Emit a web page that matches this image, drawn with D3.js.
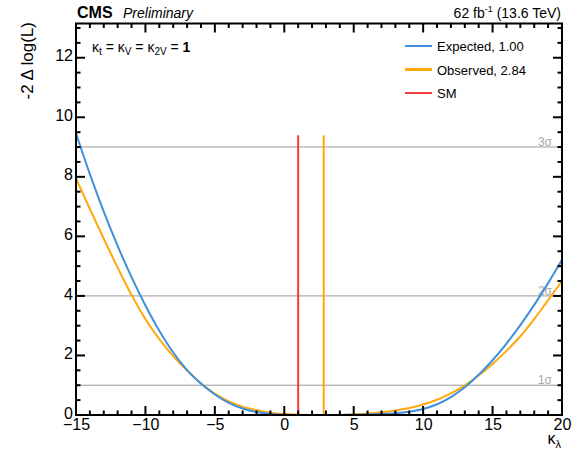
<!doctype html>
<html>
  <head>
    <script src="https://cdn.jsdelivr.net/npm/d3@7/dist/d3.min.js"></script>
    <style>
      body { margin: 0; background: #fff; }
      text { font-family: "Liberation Sans", Arial, sans-serif; }
    </style>
  </head>
  <body>
    <svg id="chart" width="580" height="464"></svg>
    <script>
      // kappa_lambda scan points
      var kl = d3.range(-15, 21);
      var expected = [9.46, 8.09, 6.83, 5.68, 4.63, 3.68, 2.83, 2.1, 1.51, 1.06,
                      0.69, 0.41, 0.22, 0.1, 0.035, 0.008, 0, 0.001, 0.002, 0.004,
                      0.007, 0.015, 0.03, 0.06, 0.11, 0.2, 0.36, 0.6, 0.93, 1.35,
                      1.84, 2.4, 3.02, 3.7, 4.43, 5.21];
      var observed = [7.95, 6.92, 5.92, 4.95, 4.03, 3.22, 2.55, 1.98, 1.49, 1.06,
                      0.72, 0.46, 0.28, 0.16, 0.08, 0.035, 0.012, 0.002, 0.001, 0.004,
                      0.019, 0.049, 0.094, 0.154, 0.234, 0.354, 0.514, 0.724, 0.994, 1.324,
                      1.714, 2.154, 2.644, 3.22, 3.86, 4.5];
      var bestFit = [{name: "SM", value: 1.0, color: "#f03c3c"},
                     {name: "Observed", value: 2.84, color: "#ffa90e"}];
      var sigmaLevels = [1, 4, 9];
      var sigmaLabels = ["1σ", "2σ", "3σ"];
      var xTicks = [-15, -10, -5, 0, 5, 10, 15, 20];
      var yTicks = [0, 2, 4, 6, 8, 10, 12];

      var pL = 76, pR = 562, pT = 23.5, pB = 415;
      var svg = d3.select("#chart");

      var x = d3.scaleLinear().domain([-15, 20]).range([pL, pR]);
      var y = d3.scaleLinear().domain([0, 13.15]).range([pB, pT]);

      svg.append("clipPath").attr("id", "clip")
        .append("rect")
          .attr("x", pL).attr("y", pT)
          .attr("width", pR - pL).attr("height", pB - pT);

      // sigma lines
      svg.selectAll(".sig")
        .data(sigmaLevels)
        .enter()
        .append("line")
          .attr("x1", pL).attr("x2", pR)
          .attr("y1", d => y(d)).attr("y2", d => y(d))
          .style("stroke", (d, i) => i == 2 ? "#bbb" : "#999")
          .style("stroke-width", (d, i) => i == 2 ? 1.5 : 1);

      svg.selectAll(".siglab")
        .data(sigmaLevels)
        .enter()
        .append("text")
          .attr("x", 552).attr("y", d => y(d) - 1)
          .attr("text-anchor", "end")
          .style("font-size", "12px")
          .style("fill", "#aaa")
          .text((d, i) => sigmaLabels[i]);

      var line = d3.line()
        .x((d, i) => x(kl[i]))
        .y(d => y(d))
        .curve(d3.curveMonotoneX);

      var g = svg.append("g").attr("clip-path", "url(#clip)");

      g.append("path")
        .datum(observed)
        .attr("d", line)
        .style("fill", "none")
        .style("stroke", "#ffa90e")
        .style("stroke-width", 2);

      g.append("path")
        .datum(expected)
        .attr("d", line)
        .style("fill", "none")
        .style("stroke", "#3f90da")
        .style("stroke-width", 2);

      // best fit / SM vertical lines
      svg.selectAll(".vl")
        .data(bestFit)
        .enter()
        .append("line")
          .attr("x1", d => x(d.value)).attr("x2", d => x(d.value))
          .attr("y1", y(0)).attr("y2", y(9.4))
          .style("stroke", d => d.color)
          .style("stroke-width", 2);

      // axes
      var xAxis = svg.append("g").attr("transform", "translate(0," + pB + ")")
        .call(d3.axisBottom(x).tickValues(xTicks).tickSize(0).tickPadding(4)
          .tickFormat(d => d < 0 ? "\u2212" + Math.abs(d) : d));
      xAxis.select(".domain").remove();
      xAxis.selectAll("text").style("font-size", "16px").style("font-family", "Liberation Sans, Arial, sans-serif");

      var yAxis = svg.append("g").attr("transform", "translate(" + pL + ",-2)")
        .call(d3.axisLeft(y).tickValues(yTicks).tickSize(0).tickPadding(3));
      yAxis.select(".domain").remove();
      yAxis.selectAll("text").style("font-size", "16px").style("font-family", "Liberation Sans, Arial, sans-serif");

      // inward ticks on all four sides
      var xMinor = d3.range(-15, 21);
      var yMinor = d3.range(0, 13.01, 0.5);
      var ticks = svg.append("g").style("stroke", "#000").style("stroke-width", 2);
      xMinor.forEach(function(v) {
        var len = v % 5 == 0 ? 9 : 4.5;
        ticks.append("line").attr("x1", x(v)).attr("x2", x(v)).attr("y1", pB).attr("y2", pB - len);
        ticks.append("line").attr("x1", x(v)).attr("x2", x(v)).attr("y1", pT).attr("y2", pT + len);
      });
      yMinor.forEach(function(v) {
        var len = v % 2 == 0 ? 9 : 4.5;
        ticks.append("line").attr("y1", y(v)).attr("y2", y(v)).attr("x1", pL).attr("x2", pL + len);
        ticks.append("line").attr("y1", y(v)).attr("y2", y(v)).attr("x1", pR).attr("x2", pR - len);
      });

      svg.append("rect")
        .attr("x", pL).attr("y", pT)
        .attr("width", pR - pL).attr("height", pB - pT)
        .style("fill", "none").style("stroke", "#000").style("stroke-width", 2);

      // titles
      var ylab = svg.append("text")
        .attr("transform", "translate(33,22) rotate(-90)")
        .attr("text-anchor", "end")
        .style("font-size", "17px");
      ylab.text("-2 \u0394 log(L)");

      var xlab = svg.append("text")
        .attr("x", 561).attr("y", 444)
        .attr("text-anchor", "end")
        .style("font-size", "16px");
      xlab.append("tspan").text("\u03ba");
      xlab.append("tspan").attr("dy", 4).style("font-size", "11px").text("\u03bb");

      svg.append("text").attr("x", 77).attr("y", 18)
        .style("font-size", "16px").style("font-weight", "bold").text("CMS");
      svg.append("text").attr("x", 123).attr("y", 18)
        .style("font-size", "14px").style("font-style", "italic").text("Preliminary");

      var lumi = svg.append("text").attr("x", 561).attr("y", 18)
        .attr("text-anchor", "end").style("font-size", "14px");
      lumi.append("tspan").text("62 fb");
      lumi.append("tspan").attr("dy", -6).style("font-size", "9px").text("-1");
      lumi.append("tspan").attr("dy", 6).text(" (13.6 TeV)");

      var kap = svg.append("text").attr("x", 92).attr("y", 52).style("font-size", "14px");
      kap.append("tspan").text("\u03ba");
      kap.append("tspan").attr("dy", 3).style("font-size", "10px").text("t");
      kap.append("tspan").attr("dy", -3).text(" = \u03ba");
      kap.append("tspan").attr("dy", 3).style("font-size", "10px").text("V");
      kap.append("tspan").attr("dy", -3).text(" = \u03ba");
      kap.append("tspan").attr("dy", 3).style("font-size", "10px").text("2V");
      kap.append("tspan").attr("dy", -3).text(" = ");
      kap.append("tspan").style("font-weight", "bold").text("1");

      // legend
      var legendItems = [
        {label: "Expected, 1.00", color: "#3f90da", w: 2},
        {label: "Observed, 2.84", color: "#ffa90e", w: 3},
        {label: "SM", color: "#f03c3c", w: 2}
      ];
      var leg = svg.selectAll(".leg")
        .data(legendItems)
        .enter()
        .append("g")
          .attr("transform", (d, i) => "translate(405," + (46 + i * 23.5) + ")");
      leg.append("line")
        .attr("x1", 0).attr("x2", 27)
        .style("stroke", d => d.color)
        .style("stroke-width", d => d.w);
      leg.append("text")
        .attr("x", 32).attr("y", 5)
        .style("font-size", "13px")
        .text(d => d.label);
    </script>
  </body>
</html>
